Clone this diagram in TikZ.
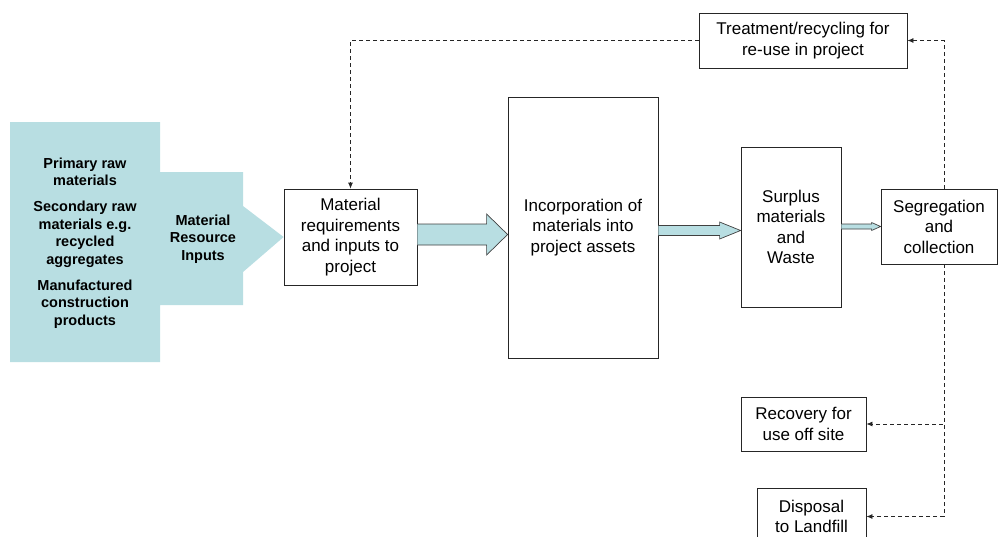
\documentclass[tikz,border=0pt]{standalone}
\usepackage{fontspec}
\setmainfont{Liberation Sans}
\usetikzlibrary{calc,arrows.meta}
\definecolor{inputblue}{RGB}{184,222,226}
\tikzset{
	>={Latex[length=6pt,width=5pt]},
	stagebox/.style={draw=black!85,line width=0.8pt,inner sep=0pt,align=center,
		font=\fontsize{17}{20.5}\selectfont},
	loopback/.style={->,dash pattern=on 4pt off 3pt,line width=0.8pt,draw=black!85},
	flowline/.style={draw=black!75,line width=0.7pt,fill=inputblue},
	inputtext/.style={align=center,inner sep=0pt,font=\fontsize{14.5}{17.5}\selectfont\bfseries}
}
% #1 start node, #2 tip, #3 half shaft, #4 half head, #5 head length
\newcommand{\flowarrow}[5]{%
	\draw[flowline] ($(#1 |- #2)+(0,-#3)$) -- ($(#2)+(-#5,-#3)$) -- ($(#2)+(-#5,-#4)$) -- (#2)
		-- ($(#2)+(-#5,#4)$) -- ($(#2)+(-#5,#3)$) -- ($(#1 |- #2)+(0,#3)$);
}

\begin{document}
\begin{tikzpicture}[x=1pt,y=-1pt]
	\clip (0,0) rectangle (998,536);

	\node[stagebox,minimum width=208pt,minimum height=55pt] (treat) at (803,40.5) {Treatment/recycling for\\re-use in project};
	\node[stagebox,minimum width=133pt,minimum height=96pt] (req) at (350.5,237) {Material\\requirements\\and inputs to\\project};
	\node[stagebox,minimum width=150pt,minimum height=261pt] (inc) at (583,227.5) {Incorporation of\\materials into\\project assets};
	\node[stagebox,minimum width=100pt,minimum height=160pt] (sur) at (791,227) {Surplus\\materials\\and\\Waste};
	\node[stagebox,minimum width=116pt,minimum height=75pt] (seg) at (939,226.5) {Segregation\\and\\collection};
	\node[stagebox,minimum width=125pt,minimum height=54pt] (rec) at (803.5,424) {Recovery for\\use off site};
	\node[stagebox,minimum width=109pt,minimum height=57pt] (disp) at (811.5,516.5) {Disposal\\to Landfill};

	% material resource inputs
	\fill[inputblue] (10,122) -- (160,122) -- (160,172) -- (243,172) -- (243,206) -- (req.west)
		-- (243,272) -- (243,305) -- (160,305) -- (160,362) -- (10,362) -- cycle;
	\node[inputtext] (sources) at (85,243) {Primary raw\\materials\\[8.5pt]Secondary raw\\materials e.g.\\recycled\\aggregates\\[8.5pt]Manufactured\\construction\\products};
	\node[inputtext] (inputs) at (203,239) {Material\\Resource\\Inputs};

	\coordinate (tipA) at ([yshift=-7pt]inc.west);
	\coordinate (tipB) at ([yshift=-3.5pt]sur.west);
	\coordinate (tipC) at (seg.west);
	\flowarrow{req.east}{tipA}{10.5}{20.5}{21}
	\flowarrow{inc.east}{tipB}{5}{8.5}{21}
	\flowarrow{sur.east}{tipC}{2.5}{4}{9}

	\draw[loopback] ([xshift=5pt]seg.north) |- (treat.east);
	\draw[loopback] (treat.west) -| (req.north);
	\draw[loopback] ([xshift=5pt]seg.south) |- (rec.east);
	\draw[loopback] ([xshift=5pt]seg.south) |- (disp.east);
\end{tikzpicture}
\end{document}
